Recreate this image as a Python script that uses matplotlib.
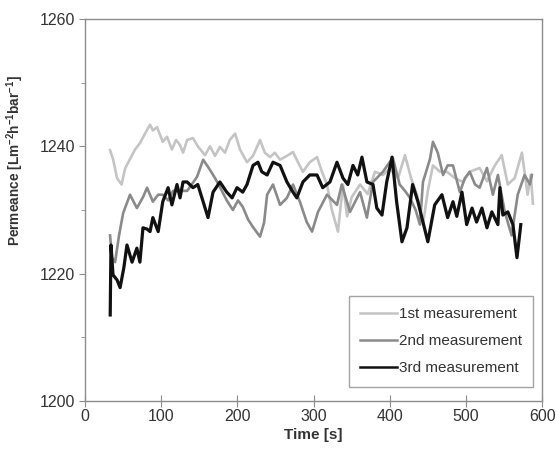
import matplotlib
matplotlib.use('Agg')
import matplotlib.pyplot as plt
from matplotlib.ticker import MultipleLocator

plt.rcParams['font.family'] = ['Liberation Sans', 'DejaVu Sans']
plt.rcParams['mathtext.fontset'] = 'custom'
plt.rcParams['mathtext.rm'] = 'Liberation Sans'
plt.rcParams['mathtext.bf'] = 'Liberation Sans:bold'

# 1st measurement (light grey)
t1 = [32.8, 36.7, 42, 48, 52.5, 59, 65.6, 72, 78.7, 85.3, 89, 94.5, 102, 107.6, 114, 119.4,
      124.7, 128.6, 134, 141.7, 148, 157.5, 164, 170.6, 177, 183.7, 190, 197, 203.4, 212.6,
      220.5, 229.7, 236, 242.8, 249, 256, 265, 273, 279.5, 286, 295, 304.5, 311, 317.6, 324,
      332, 338.6, 344, 350, 361, 371, 380.6, 391, 400, 410.8, 420, 428, 435.7, 443.6, 450,
      456.7, 466, 475, 485.6, 496, 505, 518, 527.6, 538, 547, 555, 564, 573.5, 581, 585, 588]
p1 = [1239.4, 1238, 1235, 1234, 1236.5, 1238, 1239.5, 1240.5, 1242, 1243.4, 1242.5, 1243, 1240.7,
      1241.5, 1239.5, 1241, 1240.2, 1239, 1241, 1241.3, 1240, 1238.6, 1240, 1238.5, 1239.9, 1239,
      1241, 1242, 1239.5, 1237.5, 1238.5, 1241, 1239, 1238.3, 1239, 1237.9, 1238.5, 1239.1, 1237.5,
      1236, 1237.5, 1238.3, 1236, 1234, 1230, 1226.6, 1234, 1229, 1232, 1234, 1232.5, 1236, 1235.5,
      1236.5, 1235, 1238.6, 1235, 1232.4, 1227.7, 1233, 1237, 1236, 1236, 1235, 1234.4, 1236,
      1236.6, 1234.5, 1237, 1238.6, 1234, 1235, 1239, 1232.4, 1235.5, 1231]

# 2nd measurement (mid grey)
t2 = [32.8, 35.4, 39.4, 44.6, 50, 59, 68, 76, 81.4, 89, 96, 102, 109, 115.5, 124.7, 134, 140,
      147, 155, 164, 170.6, 177, 186, 194, 200.8, 207, 214, 220.5, 229.7, 235, 239, 246.7, 256,
      265, 273, 282, 291, 298, 305.8, 317.6, 330.7, 337, 347.8, 361, 370, 378, 391, 404, 413,
      420, 426.5, 434, 439.6, 443.6, 452.8, 456.7, 463, 470, 476, 483, 492, 498.7, 505, 512,
      518, 527.6, 535.4, 542, 551, 560, 568, 577, 584, 586.6]
p2 = [1226, 1222.5, 1221.8, 1226, 1229.5, 1232.4, 1230.3, 1232, 1233.5, 1231.3, 1232.4, 1232.4,
      1231.5, 1233, 1233, 1233, 1234, 1235.2, 1237.9, 1236.3, 1235, 1233.6, 1231.5, 1230, 1231.5,
      1230.5, 1228.5, 1227.3, 1225.8, 1228, 1232.4, 1234, 1230.8, 1231.9, 1234, 1231.3, 1228.1,
      1226.6, 1229.7, 1232.4, 1230.8, 1234, 1229.7, 1232.8, 1228.8, 1234.4, 1236, 1238.2, 1234,
      1233, 1231.9, 1230, 1227.7, 1234.4, 1238, 1240.7, 1239, 1235.5, 1237, 1237, 1232.8, 1235,
      1236, 1234, 1233.5, 1236.6, 1232.4, 1235.5, 1229.7, 1226, 1232.4, 1235.5, 1234, 1235.5]

# 3rd measurement (black)
t3 = [33, 34, 36.7, 42, 46, 51, 55, 61.7, 68, 72, 76, 81.4, 85.3, 89, 96, 102, 109, 114, 120.7,
      124.7, 128.6, 134, 141.7, 148, 155, 161.4, 168, 177, 186, 193, 199.5, 207, 212.6, 220.5,
      227, 232, 239, 246.7, 256, 265, 273, 278, 286, 295, 304.5, 312, 321.5, 330.7, 338.6, 345,
      351.7, 358, 363.5, 370, 378, 383, 389.8, 396, 403, 409, 416, 422.6, 430, 437, 443.6, 450,
      459, 468.5, 476, 483, 488, 494.8, 501, 508, 514, 521, 527.6, 534, 542, 544.6, 548.5, 555,
      561.7, 567, 571, 572]
p3 = [1213.5, 1224.5, 1219.8, 1219, 1217.8, 1221, 1224.5, 1221.8, 1224, 1221.8, 1227.2, 1227,
      1226.6, 1228.8, 1226.6, 1231.3, 1233.5, 1230.8, 1234, 1231.9, 1234.4, 1234.4, 1233.5, 1234,
      1231.3, 1228.8, 1232.8, 1234.4, 1232.8, 1231.9, 1233.5, 1232.8, 1234, 1237, 1237.5, 1236,
      1235.5, 1237.5, 1237, 1234.4, 1232.8, 1231.9, 1234.4, 1235.5, 1235.5, 1233.5, 1234.4, 1237.5,
      1235, 1234, 1237, 1235.5, 1238.3, 1234.4, 1234, 1230.3, 1229.2, 1234.4, 1238.3, 1231.3, 1225,
      1227.2, 1234, 1231.3, 1228.1, 1225, 1230.8, 1232.4, 1228.8, 1231.3, 1229, 1232.8, 1227.7,
      1230.3, 1228.1, 1230.3, 1227.2, 1229.7, 1227.7, 1233.5, 1229.2, 1229.7, 1227.7, 1222.5,
      1226.6, 1227.7]

labels = ['1st measurement', '2nd measurement', '3rd measurement']

fig = plt.figure(figsize=(5.56, 4.53), dpi=100)
ax = fig.add_axes([0.153, 0.115, 0.822, 0.843])

ax.plot(t1, p1, color='#c4c4c4', lw=1.9, label=labels[0])
ax.plot(t2, p2, color='#8a8a8a', lw=1.9, label=labels[1])
ax.plot(t3, p3, color='#111111', lw=2.3, label=labels[2])

ax.set_xlim(0, 600)
ax.set_ylim(1200, 1260)
ax.xaxis.set_major_locator(MultipleLocator(100))
ax.yaxis.set_major_locator(MultipleLocator(20))
ax.yaxis.set_minor_locator(MultipleLocator(10))

for s in ax.spines.values():
    s.set_color('#8c8c8c')
    s.set_linewidth(1.0)

ax.tick_params(axis='x', which='major', direction='inout', length=8, color='#8c8c8c',
               labelsize=11.5, labelcolor='#333333', pad=2)
ax.tick_params(axis='y', which='major', direction='out', length=4, color='#8c8c8c',
               labelsize=11.5, labelcolor='#333333', pad=3)
ax.tick_params(axis='y', which='minor', direction='out', length=3, color='#8c8c8c')

ax.set_xlabel('Time [s]', fontsize=11, fontweight='bold', color='#333333', labelpad=3)
ax.set_ylabel(r'Permeance [Lm$^{\mathbf{-2}}$h$^{\mathbf{-1}}$bar$^{\mathbf{-1}}$]',
              fontsize=9.8, fontweight='bold', color='#333333')
ax.yaxis.set_label_coords(-0.13, 0.63)

leg = ax.legend(loc='lower right', bbox_to_anchor=(0.98, 0.037), fontsize=11,
                frameon=True, fancybox=False, handlelength=2.4, handletextpad=0.1,
                labelspacing=0.85, borderpad=0.75, borderaxespad=0)
leg.get_frame().set_edgecolor('#8c8c8c')
leg.get_frame().set_linewidth(1.0)
for line in leg.get_lines():
    line.set_linewidth(1.8)
for txt in leg.get_texts():
    txt.set_color('#333333')

fig.savefig('out.png', dpi=100)
